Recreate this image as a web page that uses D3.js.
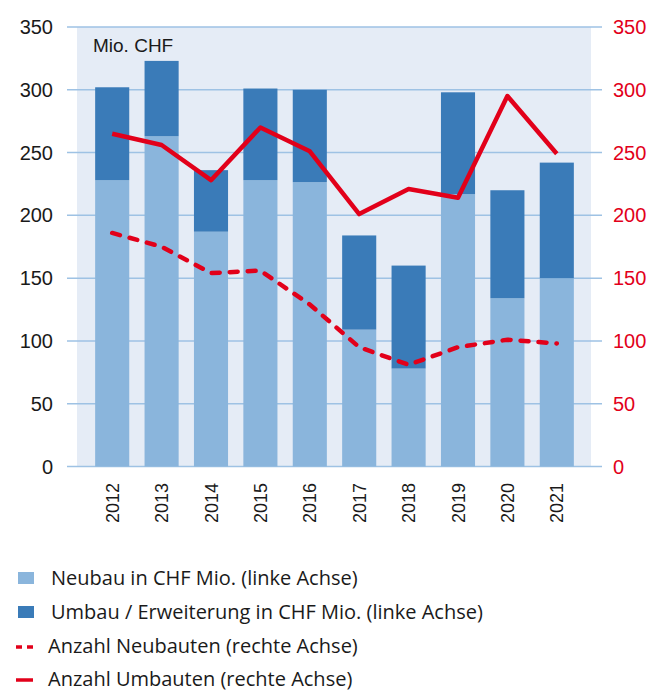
<!DOCTYPE html>
<html><head><meta charset="utf-8">
<script src="https://cdn.jsdelivr.net/npm/d3@7"></script>
<style>body{margin:0;background:#fff}svg{display:block}</style>
</head><body>
<svg id="c" width="656" height="692"></svg>
<script>
const years = ["2012","2013","2014","2015","2016","2017","2018","2019","2020","2021"];
const neubauCHF = [228,263,187,228,226.5,109,78,217,134,150];
const umbauCHF = [74,60,49,73,73.5,75,82,81,86,92];
const anzahlNeubauten = [186,175,154,156,129,95,81,95,101,98];
const anzahlUmbauten = [265,256,228,270,251,201,221,214,295,249];
const ticks = [0,50,100,150,200,250,300,350];
const legendLabels = ["Neubau in CHF Mio. (linke Achse)","Umbau / Erweiterung in CHF Mio. (linke Achse)","Anzahl Neubauten (rechte Achse)","Anzahl Umbauten (rechte Achse)"];

const svg = d3.select("#c");
const light = "#8ab5dc", dark = "#3a7bb8", red = "#e2001a", grid = "#9ec2e4", bg = "#e5ecf6";
const font = "'Liberation Sans', Arial, sans-serif";

const y = d3.scaleLinear().domain([0,350]).range([466.5,27]);
const yR = d3.scaleLinear().domain([0,350]).range([466.5,27]);
const x = d3.scaleBand().domain(years).range([87.5,581.5]).paddingInner(0.31).paddingOuter(0.155);

svg.append("rect").attr("x",77).attr("y",27).attr("width",514).attr("height",439.5).attr("fill",bg);

svg.append("g").selectAll("line").data(ticks).join("line")
  .attr("x1",67).attr("x2",602).attr("y1",d=>y(d)).attr("y2",d=>y(d))
  .attr("stroke",grid).attr("stroke-width",1.5);

// bars
const g = svg.append("g");
g.selectAll(".n").data(years).join("rect")
  .attr("x",d=>x(d)).attr("width",x.bandwidth())
  .attr("y",(d,i)=>y(neubauCHF[i])).attr("height",(d,i)=>y(0)-y(neubauCHF[i]))
  .attr("fill",light);
g.selectAll(".u").data(years).join("rect")
  .attr("x",d=>x(d)).attr("width",x.bandwidth())
  .attr("y",(d,i)=>y(neubauCHF[i]+umbauCHF[i])).attr("height",(d,i)=>y(neubauCHF[i])-y(neubauCHF[i]+umbauCHF[i]))
  .attr("fill",dark);

// lines
const cx = d => x(d)+x.bandwidth()/2;
const line = d3.line().x(d=>cx(d[0])).y(d=>yR(d[1]));
svg.append("path").datum(years.map((d,i)=>[d,anzahlNeubauten[i]]))
  .attr("d",line).attr("fill","none").attr("stroke",red).attr("stroke-width",4.5)
  .attr("stroke-dasharray","8,10").attr("stroke-linecap","round");
svg.append("path").datum(years.map((d,i)=>[d,anzahlUmbauten[i]]))
  .attr("d",line).attr("fill","none").attr("stroke",red).attr("stroke-width",4.5)
  .attr("stroke-linejoin","round").attr("stroke-linecap","butt");

// axes labels
svg.append("g").selectAll("text").data(ticks).join("text")
  .attr("x",53).attr("y",d=>y(d)).attr("dy","0.35em").attr("text-anchor","end")
  .attr("font-family",font).attr("font-size",20).attr("fill","#1a1a1a").text(d=>d);
svg.append("g").selectAll("text").data(ticks).join("text")
  .attr("x",613).attr("y",d=>yR(d)).attr("dy","0.35em").attr("text-anchor","start")
  .attr("font-family",font).attr("font-size",20).attr("fill",red).text(d=>d);
svg.append("g").selectAll("text").data(years).join("text")
  .attr("transform",d=>`translate(${cx(d)+6.5},483) rotate(-90)`)
  .attr("text-anchor","end")
  .attr("font-family",font).attr("font-size",18).attr("fill","#1a1a1a").text(d=>d);

svg.append("text").attr("x",93).attr("y",52).attr("font-family",font).attr("font-size",19)
  .attr("fill","#1a1a1a").text("Mio. CHF");

// legend
const lf = "'Open Sans', sans-serif";
const ly = [585,619,653,686];
svg.append("rect").attr("x",18).attr("y",572).attr("width",16).attr("height",12).attr("fill",light);
svg.append("rect").attr("x",18).attr("y",606).attr("width",16).attr("height",12).attr("fill",dark);
svg.append("line").attr("x1",16).attr("x2",33).attr("y1",647).attr("y2",647).attr("stroke",red).attr("stroke-width",3.5).attr("stroke-dasharray","6,5");
svg.append("line").attr("x1",16).attr("x2",33).attr("y1",680).attr("y2",680).attr("stroke",red).attr("stroke-width",3.5);
svg.append("g").selectAll("text").data(legendLabels).join("text")
  .attr("x",(d,i)=>i<2?51:48).attr("y",(d,i)=>ly[i])
  .attr("font-family",lf).attr("font-size",20).attr("fill","#1a1a1a").text(d=>d);
</script>
</body></html>
